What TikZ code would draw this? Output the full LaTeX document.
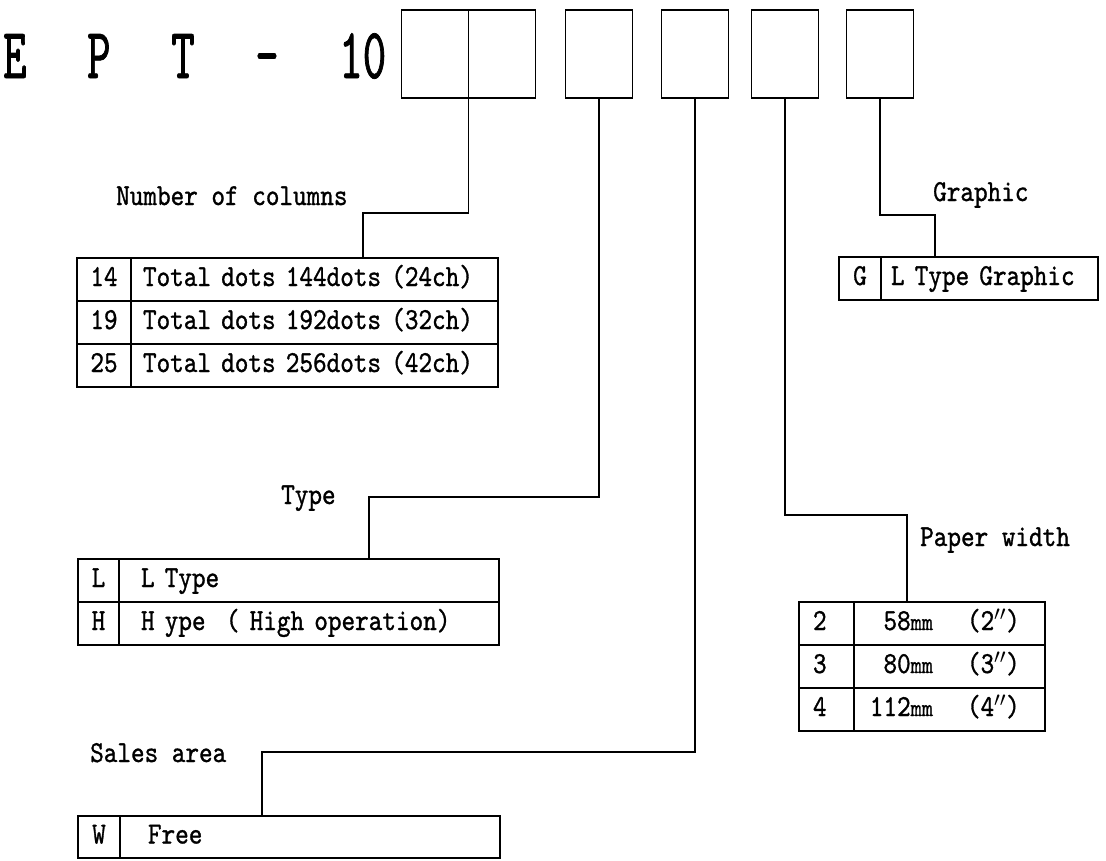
\documentclass[tikz,border=0pt]{standalone}
\usepackage{fontspec}
\usepackage{tikz}
\usetikzlibrary{positioning}

\newfontfamily\labelfont{lmmono10-regular}[Extension=.otf, FakeStretch=0.85, FakeBold=1]
\newfontfamily\titlefont{lmmono10-regular}[Extension=.otf, FakeStretch=0.62, FakeBold=1]
\newcommand{\tgap}{\hspace{60.6pt}}
\newcommand{\unitmm}{{\fontsize{25}{25}\selectfont mm}}
\newcommand{\inchmark}{$''$}
\newcommand{\paperrow}[2]{\makebox[65pt][r]{#1\unitmm}\hspace{34pt}(#2\inchmark)}
\newcommand{\monosp}{\fontsize{30.5}{34}\selectfont\spaceskip=13.6pt\xspaceskip=13.6pt\relax}

\begin{document}
\begin{tikzpicture}[x=1pt, y=-1pt,
    slot/.style={draw, line width=1.6pt, outer sep=0pt, minimum width=67pt, minimum height=88pt},
    cell/.style={draw, line width=1.6pt, outer sep=0pt, inner ysep=0pt, minimum height=43pt,
      text height=18pt, text depth=5pt, font=\labelfont\monosp},
    key/.style={cell, inner xsep=0pt, minimum width=#1, align=center},
    padkey/.style={cell, inner xsep=14pt, text width=27pt, align=left},
    desc/.style 2 args={cell, inner xsep=#2, text width=#1, align=left},
    caption/.style={anchor=base west, inner sep=0pt, font=\labelfont\monosp},
    link/.style={line width=1.1pt}
  ]
    \path[use as bounding box, fill=white] (0,0) rectangle (1106,860);

    % model code
    \node[anchor=base west, inner sep=0pt, font=\titlefont\fontsize{72}{72}\selectfont] (model) at (3,78)
      {E\tgap P\tgap T\tgap -\tgap 10};
    \node[slot] (b1a) at (435,54) {};
    \node[slot, right=0pt of b1a] (b1b) {};
    \node[slot] (b2) at (599,54) {};
    \node[slot] (b3) at (695,54) {};
    \node[slot] (b4) at (785,54) {};
    \node[slot] (b5) at (880,54) {};

    % captions
    \node[caption] (colslabel) at (116,205) {Number of columns};
    \node[caption] (graphlabel) at (933,201) {Graphic};
    \node[caption] (typelabel) at (281,504) {Type};
    \node[caption] (paperlabel) at (920,546) {Paper width};
    \node[caption] (saleslabel) at (90,762) {Sales area};

    % number of columns
    \node[key=54pt, anchor=north west] (k14) at (77,258) {14};
    \node[desc={343pt}{12pt}, right=0pt of k14] (d14) {Total dots 144dots (24ch)};
    \node[key=54pt, below=0pt of k14] (k19) {19};
    \node[desc={343pt}{12pt}, right=0pt of k19] (d19) {Total dots 192dots (32ch)};
    \node[key=54pt, below=0pt of k19] (k25) {25};
    \node[desc={343pt}{12pt}, right=0pt of k25] (d25) {Total dots 256dots (42ch)};

    % graphic
    \node[key=42pt, anchor=north west] (kG) at (839,257) {G};
    \node[desc={197pt}{10pt}, right=0pt of kG] (dG) {L Type Graphic};

    % type
    \node[key=41pt, anchor=north west] (kL) at (78,559) {L};
    \node[desc={336pt}{22pt}, right=0pt of kL] (dL) {L Type};
    \node[key=41pt, below=0pt of kL] (kH) {H};
    \node[desc={336pt}{22pt}, right=0pt of kH] (dH) {H ype~~( High operation)};

    % paper width
    \node[padkey, anchor=north west] (k2) at (799,602) {2};
    \node[desc={163pt}{14pt}, right=0pt of k2] (d2) {\paperrow{58}{2}};
    \node[padkey, below=0pt of k2] (k3) {3};
    \node[desc={163pt}{14pt}, right=0pt of k3] (d3) {\paperrow{80}{3}};
    \node[padkey, below=0pt of k3] (k4) {4};
    \node[desc={163pt}{14pt}, right=0pt of k4] (d4) {\paperrow{112}{4}};

    % sales area
    \node[key=42pt, minimum height=42pt, anchor=north west] (kW) at (78,816) {W};
    \node[desc={324pt}{28pt}, minimum height=42pt, right=0pt of kW] (dW) {Free};

    % leaders
    \coordinate (colsin) at (363,258);
    \coordinate (typein) at (369,559);
    \coordinate (salesin) at (262,816);
    \coordinate (paperin) at (907,602);
    \coordinate (graphin) at (935,257);
    \draw[link] (b1a.south east) -- ++(0,115) -| (colsin);
    \draw[link] (b2.south) -- ++(0,399) -| (typein);
    \draw[link] (b3.south) -- ++(0,654) -| (salesin);
    \draw[link] (b4.south) -- ++(0,417) -| (paperin);
    \draw[link] (b5.south) -- ++(0,117) -| (graphin);
  \end{tikzpicture}
\end{document}
